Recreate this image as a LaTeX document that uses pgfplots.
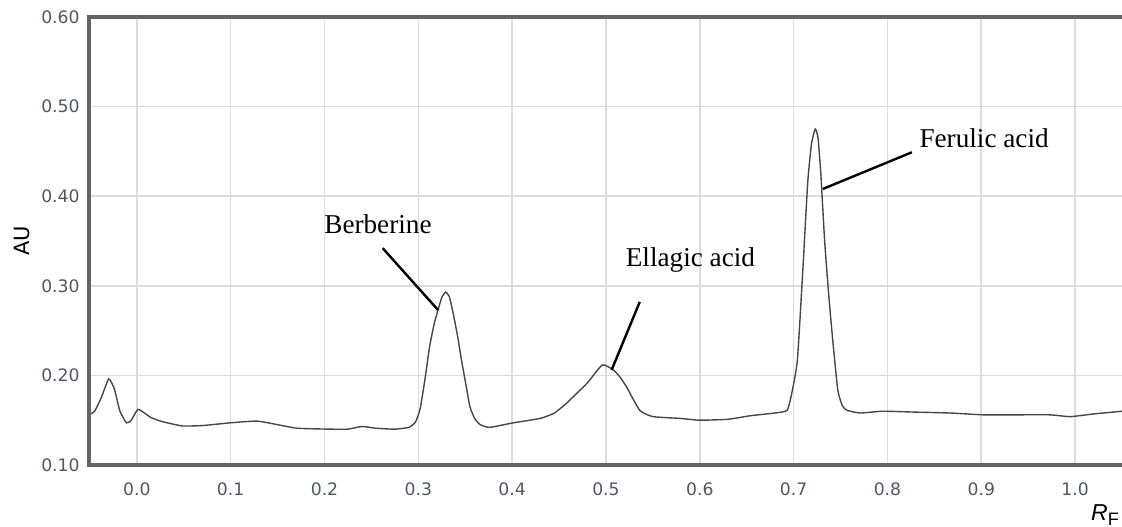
\documentclass[border=0pt]{standalone}
\usepackage{pgfplots}
\pgfplotsset{compat=1.18}
\usepackage{fontspec}
\setmainfont{Liberation Serif}
\newfontfamily\tickfont{DejaVu Sans}
\newfontfamily\sansf{Liberation Sans}
\definecolor{ticktext}{RGB}{80,86,100}
\definecolor{framecol}{RGB}{100,100,100}
\definecolor{gridcol}{RGB}{220,220,220}
\definecolor{curvecol}{RGB}{70,70,70}
\begin{document}
\begin{tikzpicture}
\begin{axis}[
  scale only axis,
  width=516.5pt, height=224pt,
  xmin=-0.051, xmax=1.050, ymin=0.10, ymax=0.60,
  xtick={0,0.1,0.2,0.3,0.4,0.5,0.6,0.7,0.8,0.9,1.0},
  xticklabels={0.0,0.1,0.2,0.3,0.4,0.5,0.6,0.7,0.8,0.9,1.0},
  ytick={0.1,0.2,0.3,0.4,0.5,0.6},
  yticklabels={0.10,0.20,0.30,0.40,0.50,0.60},
  major tick length=0pt,
  grid=major,
  major grid style={gridcol, line width=0.8pt},
  axis line style={draw=none},
  /pgf/number format/assume math mode=true,
  ticklabel style={font=\tickfont\fontsize{8.6}{8.6}\selectfont, text=ticktext, inner sep=0pt},
  yticklabel style={anchor=east, xshift=-4.5pt},
  xticklabel style={anchor=north, yshift=-8.5pt},
  clip=false,
]
\addplot[curvecol, line width=0.7pt, smooth, tension=0.3] coordinates {
(-0.051,0.156) (-0.045,0.160) (-0.038,0.175) (-0.030,0.196) (-0.024,0.185)
(-0.018,0.160) (-0.011,0.147) (-0.006,0.150) (0.001,0.162) (0.008,0.158)
(0.015,0.153) (0.025,0.149) (0.037,0.146) (0.049,0.1435) (0.070,0.144)
(0.099,0.147) (0.128,0.149) (0.150,0.145) (0.171,0.141) (0.206,0.140)
(0.225,0.140) (0.240,0.143) (0.255,0.141) (0.275,0.140) (0.290,0.142)
(0.297,0.148) (0.302,0.163) (0.307,0.195) (0.312,0.232) (0.317,0.258)
(0.321,0.273) (0.325,0.287) (0.329,0.293) (0.333,0.288) (0.337,0.270)
(0.342,0.243) (0.346,0.217) (0.351,0.188) (0.355,0.165)
(0.360,0.152) (0.366,0.145) (0.376,0.142) (0.401,0.147) (0.430,0.152)
(0.445,0.158) (0.458,0.169) (0.480,0.1915) (0.496,0.2116) (0.508,0.206)
(0.515,0.198) (0.522,0.187) (0.536,0.161) (0.550,0.154) (0.579,0.152)
(0.600,0.150) (0.630,0.151) (0.654,0.155) (0.680,0.158) (0.693,0.161)
(0.698,0.180) (0.704,0.217) (0.710,0.321) (0.715,0.415) (0.719,0.458)
(0.723,0.475) (0.726,0.465) (0.729,0.425) (0.733,0.351) (0.737,0.295) (0.741,0.247)
(0.747,0.184) (0.752,0.166) (0.757,0.161) (0.771,0.158) (0.795,0.160) (0.830,0.159)
(0.867,0.158) (0.902,0.156) (0.940,0.156) (0.973,0.156) (0.995,0.154)
(1.020,0.157) (1.050,0.160)
};
\draw[framecol, line width=2pt] (rel axis cs:1,1) -- (rel axis cs:0,1) -- (rel axis cs:0,0) -- (rel axis cs:1,0);
\coordinate (sw) at (rel axis cs:0,0);
\coordinate (ne) at (rel axis cs:1,1);
\coordinate (se) at (rel axis cs:1,0);
\coordinate (ml) at (rel axis cs:0,0.5);
\node[font=\fontsize{13.6}{13.6}\selectfont] at (axis cs:0.257,0.369) {Berberine};
\draw[line width=1.2pt] (axis cs:0.262,0.342) -- (axis cs:0.321,0.273);
\node[font=\fontsize{13.6}{13.6}\selectfont] at (axis cs:0.590,0.329) {Ellagic acid};
\draw[line width=1.2pt] (axis cs:0.536,0.282) -- (axis cs:0.506,0.206);
\node[font=\fontsize{13.6}{13.6}\selectfont] at (axis cs:0.903,0.465) {Ferulic acid};
\draw[line width=1.2pt] (axis cs:0.826,0.449) -- (axis cs:0.731,0.408);
\end{axis}
\node[rotate=90, font=\tickfont\fontsize{10.5}{10.5}\selectfont] at ([xshift=-33.5pt]ml) {AU};
\node[font=\sansf\fontsize{11.5}{11.5}\selectfont] at ([xshift=-8.5pt,yshift=-25pt]se) {\textit{R}\raisebox{-0.35ex}{\fontsize{9}{9}\selectfont F}};
\pgfresetboundingbox
\path[use as bounding box] ([shift={(-44.5pt,-31pt)}]sw) rectangle ([shift={(0pt,8.5pt)}]ne);
\end{tikzpicture}
\end{document}
